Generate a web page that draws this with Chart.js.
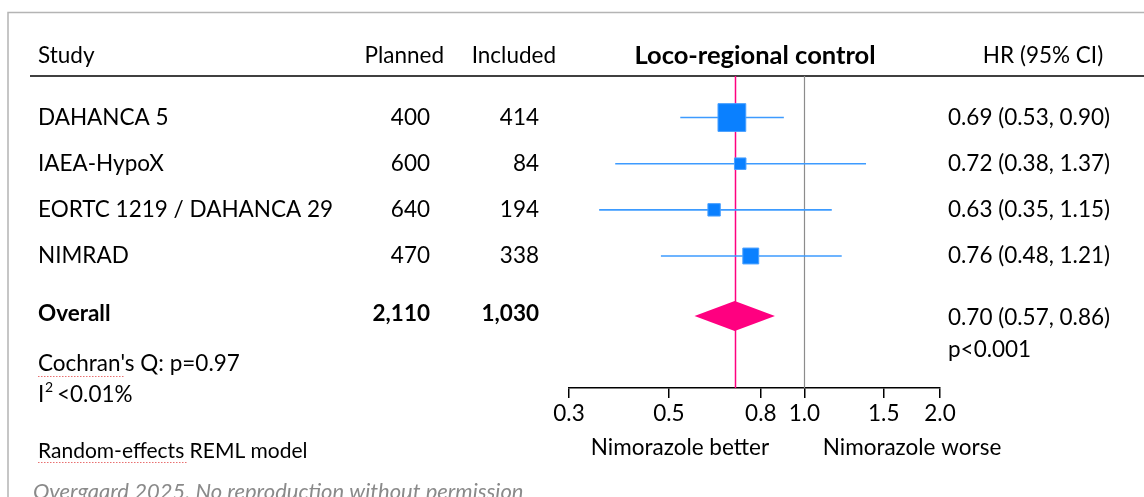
<!DOCTYPE html>
<html>
<head>
<meta charset="utf-8">
<script src="https://cdn.jsdelivr.net/npm/chart.js@4.4.1/dist/chart.umd.min.js"></script>
<style>
  html, body { margin: 0; background: #fff; }
  #wrap { width: 1144px; height: 497px; }
</style>
</head>
<body>
<div id="wrap"><canvas id="forest" width="1144" height="497"></canvas></div>
<script>
// studies
const studies = ['DAHANCA 5', 'IAEA-HypoX', 'EORTC 1219 / DAHANCA 29', 'NIMRAD'];
const planned = ['400', '600', '640', '470'];
const included = ['414', '84', '194', '338'];
const hr = [0.69, 0.72, 0.63, 0.76];
const lower = [0.53, 0.38, 0.35, 0.48];
const upper = [0.90, 1.37, 1.15, 1.21];
const weights = [58.9, 10.1, 11.7, 19.3]; // % weight -> square size

// pooled estimate
const overallPlanned = '2,110';
const overallIncluded = '1,030';
const overallHr = 0.70;
const overallLower = 0.57;
const overallUpper = 0.86;
const overallP = 'p<0.001';

const xTicks = [0.3, 0.5, 0.8, 1.0, 1.5, 2.0];

const FONT = 'Lato, "Open Sans", sans-serif';
const FS = 22.5;
const rowY = studies.map((s, i) => i + 1);
const overallY = 5.3;

const fmt = (v) => v.toFixed(2);

// lines of the CI's
const ciSets = studies.map((s, i) => ({
  type: 'scatter',
  showLine: true,
  data: [{ x: lower[i], y: rowY[i] }, { x: upper[i], y: rowY[i] }],
  borderColor: '#3d9bff',
  borderWidth: 1.6,
  pointRadius: 0,
  order: 2
}));

const squareSet = {
  type: 'scatter',
  data: hr.map((v, i) => ({ x: v, y: rowY[i] })),
  pointStyle: 'rect',
  pointRadius: (c) => 3.62 * Math.sqrt(weights[c.dataIndex]) / Math.SQRT2,
  backgroundColor: '#0a80ff',
  borderColor: '#4aa0ff',
  borderWidth: 1,
  order: 0
};

// reference lines + diamond + table text
const forestPlugin = {
  id: 'forest',
  beforeDatasetsDraw(chart) {
    const { ctx, chartArea: a, scales: { x, y } } = chart;
    ctx.save();
    // frame
    ctx.strokeStyle = '#b4b4b4';
    ctx.lineWidth = 1.5;
    ctx.beginPath();
    ctx.moveTo(8, 497); ctx.lineTo(8, 12.5); ctx.lineTo(1144, 12.5);
    ctx.stroke();
    // header rule
    ctx.strokeStyle = '#000';
    ctx.lineWidth = 1.5;
    ctx.beginPath();
    ctx.moveTo(30, a.top); ctx.lineTo(1144, a.top);
    ctx.stroke();
    // no effect line
    const x1 = Math.round(x.getPixelForValue(1)) + 0.5;
    ctx.strokeStyle = '#8c8c8c';
    ctx.lineWidth = 1.2;
    ctx.beginPath();
    ctx.moveTo(x1, a.top); ctx.lineTo(x1, a.bottom);
    ctx.stroke();
    // pooled line
    const xp = Math.round(x.getPixelForValue(overallHr)) + 0.5;
    ctx.strokeStyle = '#ff0080';
    ctx.lineWidth = 1.5;
    ctx.beginPath();
    ctx.moveTo(xp, a.top); ctx.lineTo(xp, a.bottom);
    ctx.stroke();
    // diamond
    const yo = y.getPixelForValue(overallY);
    ctx.fillStyle = '#ff0080';
    ctx.beginPath();
    ctx.moveTo(x.getPixelForValue(overallLower), yo);
    ctx.lineTo(x.getPixelForValue(overallHr), yo - 15);
    ctx.lineTo(x.getPixelForValue(overallUpper), yo);
    ctx.lineTo(x.getPixelForValue(overallHr), yo + 15);
    ctx.closePath();
    ctx.fill();
    ctx.restore();
  },
  afterDraw(chart) {
    const { ctx, scales: { x, y } } = chart;
    ctx.save();
    ctx.fillStyle = '#000';
    ctx.textBaseline = 'middle';
    const txt = (s, px, py, align, font) => {
      ctx.font = font || (FS + 'px ' + FONT);
      ctx.textAlign = align || 'left';
      ctx.fillText(s, px, py);
    };
    // header
    const hy = 56;
    txt('Study', 38, hy);
    txt('Planned', 444, hy, 'right');
    txt('Included', 556, hy, 'right');
    txt('Loco-regional control', 755, hy, 'center', 'bold 25.5px ' + FONT);
    txt('HR (95% CI)', 1043, hy, 'center');
    // rows
    studies.forEach((s, i) => {
      const py = y.getPixelForValue(rowY[i]);
      txt(s, 38, py);
      txt(planned[i], 430, py, 'right');
      txt(included[i], 539, py, 'right');
      txt(fmt(hr[i]) + ' (' + fmt(lower[i]) + ', ' + fmt(upper[i]) + ')', 948, py);
    });
    // overall
    const oy = y.getPixelForValue(overallY);
    const bold = 'bold ' + FS + 'px ' + FONT;
    txt('Overall', 38, oy - 2, 'left', bold);
    txt(overallPlanned, 430, oy - 2, 'right', bold);
    txt(overallIncluded, 539, oy - 2, 'right', bold);
    txt(fmt(overallHr) + ' (' + fmt(overallLower) + ', ' + fmt(overallUpper) + ')', 948, oy + 2);
    txt(overallP, 948, oy + 34);
    // heterogeneity
    txt("Cochran's Q: p=0.97", 38, 364);
    txt('I', 38, 395);
    ctx.font = '14px ' + FONT;
    ctx.fillText('2', 45, 387);
    txt('<0.01%', 57, 395);
    txt('Random-effects REML model', 38, 451, 'left', '21px ' + FONT);
    // spell-check squiggles
    ctx.strokeStyle = '#e87070';
    ctx.lineWidth = 1;
    ctx.setLineDash([1.5, 1.5]);
    ctx.beginPath();
    ctx.moveTo(38, 376.5); ctx.lineTo(124, 376.5);
    ctx.moveTo(38, 462.5); ctx.lineTo(187, 462.5);
    ctx.stroke();
    ctx.setLineDash([]);
    // footer note
    ctx.fillStyle = '#8a8a8a';
    txt('Overgaard 2025. No reproduction without permission', 33, 492, 'left', 'italic 22px ' + FONT);
    // direction labels
    ctx.fillStyle = '#000';
    txt('Nimorazole better', 680, 448, 'center');
    txt('Nimorazole worse', 912, 448, 'center');
    ctx.restore();
  }
};

new Chart(document.getElementById('forest'), {
  type: 'scatter',
  data: { datasets: [squareSet, ...ciSets] },
  options: {
    responsive: false,
    animation: false,
    events: [],
    layout: { padding: { left: 569, right: 204, top: 76, bottom: 59 } },
    plugins: { legend: { display: false }, tooltip: { enabled: false } },
    scales: {
      x: {
        type: 'logarithmic',
        min: 0.3,
        max: 2.0,
        afterBuildTicks: (s) => { s.ticks = xTicks.map((v) => ({ value: v })); },
        afterFit: (s) => { s.height = 50; },
        ticks: {
          autoSkip: false,
          maxRotation: 0,
          padding: 2,
          color: '#000',
          font: { family: FONT, size: FS },
          callback: (v) => Number(v).toFixed(1)
        },
        grid: { drawOnChartArea: false, drawTicks: true, tickLength: 10, color: '#000', lineWidth: 1.5 },
        border: { color: '#000', width: 1.5 }
      },
      y: {
        type: 'linear',
        min: 0.1,
        max: 6.86,
        reverse: true,
        display: false
      }
    }
  },
  plugins: [forestPlugin]
});
</script>
</body>
</html>
